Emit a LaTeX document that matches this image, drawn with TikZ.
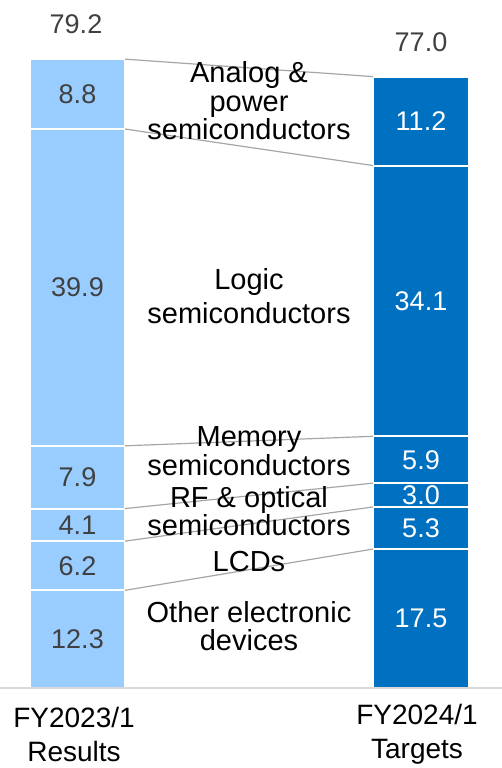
\documentclass[tikz,border=0pt]{standalone}
\usepackage{fontspec}
\setmainfont{Liberation Sans}
\definecolor{resblue}{HTML}{99CCFF}
\definecolor{tgtblue}{HTML}{0070C0}
\definecolor{numgray}{HTML}{404040}
\definecolor{linkgray}{HTML}{A6A6A6}
\definecolor{axisgray}{HTML}{D9D9D9}
\tikzset{
  seg/.style={rectangle, anchor=south west, inner sep=0pt, outer sep=0pt,
    draw=white, line width=2pt, minimum height=#1*7.94pt,
    font=\fontsize{27}{27}\selectfont},
  res/.style={seg=#1, fill=resblue, text=numgray, minimum width=95pt},
  tgt/.style={seg=#1, fill=tgtblue, text=white, minimum width=96pt},
  cat/.style={align=center, font=\fontsize{29}{28.5}\selectfont},
  total/.style={text=numgray, font=\fontsize{27}{27}\selectfont},
  yearlbl/.style={align=center, font=\fontsize{28}{34}\selectfont},
  link/.style={draw=linkgray, line width=1.2pt},
}
\begin{document}
\begin{tikzpicture}[x=1pt,y=1pt]
  \useasboundingbox (0,0) rectangle (502,768);
  % FY2023/1 results
  \node[res=12.3] (oth23) at (30,80) {12.3};
  \node[res=6.2] (lcd23) at (oth23.north west) {6.2};
  \node[res=4.1] (rf23) at (lcd23.north west) {4.1};
  \node[res=7.9] (mem23) at (rf23.north west) {7.9};
  \node[res=39.9] (log23) at (mem23.north west) {39.9};
  \node[res=8.8] (ana23) at (log23.north west) {8.8};
  % FY2024/1 targets
  \node[tgt=17.5] (oth24) at (373,80) {17.5};
  \node[tgt=5.3] (lcd24) at (oth24.north west) {5.3};
  \node[tgt=3.0] (rf24) at (lcd24.north west) {3.0};
  \node[tgt=5.9] (mem24) at (rf24.north west) {5.9};
  \node[tgt=34.1] (log24) at (mem24.north west) {34.1};
  \node[tgt=11.2] (ana24) at (log24.north west) {11.2};
  % totals
  \node[total] (tot23) at (76,744) {79.2};
  \node[total] (tot24) at (421,726) {77.0};
  % connectors
  \draw[link] (ana23.north east) -- (ana24.north west);
  \draw[link] (log23.north east) -- (log24.north west);
  \draw[link] (mem23.north east) -- (mem24.north west);
  \draw[link] (rf23.north east) -- (rf24.north west);
  \draw[link] (lcd23.north east) -- (lcd24.north west);
  \draw[link] (oth23.north east) -- (oth24.north west);
  % categories
  \node[cat] (ana) at (249,667) {Analog \&\\power\\semiconductors};
  \node[cat] (log) at (249,472) {Logic\\[6pt]semiconductors};
  \node[cat] (mem) at (249,317) {Memory\\semiconductors};
  \node[cat] (rf) at (249,257) {RF \& optical\\semiconductors};
  \node[cat] (lcd) at (249,206) {LCDs};
  \node[cat] (oth) at (249,142) {Other electronic\\devices};
  % axis and years
  \coordinate (axl) at (0,80);
  \coordinate (axr) at (502,80);
  \draw[axisgray, line width=1.5pt] (axl) -- (axr);
  \node[yearlbl] (fy23) at (74,34) {FY2023/1\\Results};
  \node[yearlbl] (fy24) at (417,34) {FY2024/1\\Targets};
\end{tikzpicture}
\end{document}
